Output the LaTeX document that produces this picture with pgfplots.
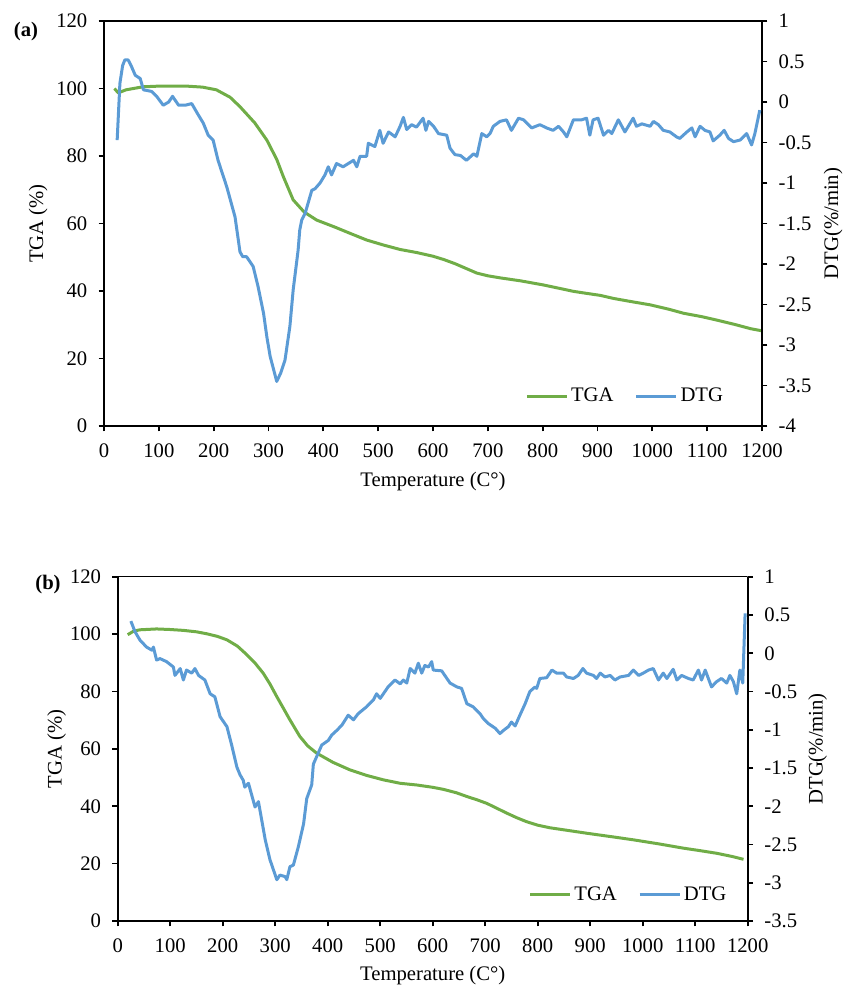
\documentclass[border=0pt]{standalone}
\usepackage{fontspec}
\setmainfont{Liberation Serif}
\usepackage{pgfplots}
\pgfplotsset{compat=1.18}
\definecolor{tgagreen}{RGB}{112,173,71}
\definecolor{dtgblue}{RGB}{91,155,213}
\newcommand{\fs}{\fontsize{15.5}{18}\selectfont}
\pgfplotsset{
  base/.style={scale only axis, anchor=south west, xmin=0, xmax=1200,
    enlargelimits=false, tick align=outside, major tick length=4pt,
    every tick/.style={black, line width=1.3pt},
    axis line style={black, line width=1.8pt, -},
    tick label style={font=\fs}, label style={font=\fs},
    /pgf/number format/assume math mode=true,
    /pgf/number format/1000 sep={}},
  leftax/.style={base, axis x line*=bottom, axis y line*=left,
    xtick distance=100, ymin=0, ymax=120, ytick distance=20,
    yticklabel style={xshift=-5pt}, xticklabel style={yshift=-6pt},
    xlabel={Temperature (C°)}, ylabel={TGA (\%)}},
  rightax/.style={base, hide x axis, axis y line*=right, ytick distance=0.5,
    yticklabel style={xshift=5pt},
    ylabel={DTG(\%/min)},
    legend style={draw=none, fill=none, font=\fs, legend columns=2, inner sep=0pt,
      /tikz/every even column/.append style={column sep=14pt}},
    legend image code/.code={\draw[#1] (0pt,0pt) -- (30pt,0pt);}},
  tga/.style={tgagreen, line width=2.25pt, line join=round, mark=none},
  dtg/.style={dtgblue, line width=2.25pt, line join=round, mark=none},
}
\begin{document}
\begin{tikzpicture}
\useasboundingbox (0,0) rectangle (632.25pt,741.75pt);
% ---------------- panel (a)
\begin{axis}[leftax, at={(78pt,422.25pt)}, width=493.5pt, height=303.75pt,
  xlabel style={at={(axis description cs:0.5,-0.136)}, anchor=center},
  ylabel style={at={(axis description cs:-0.100,0.5)}, anchor=center}]
\addplot[tga] coordinates {(19,100.0) (26,98.7) (40,99.6) (71,100.5) (100,100.7) (151,100.7) (180,100.4) (205,99.6) (230,97.4) (248,94.6) (275,89.8) (297,84.7) (315,79) (327,73.9) (345,67) (365,63.4) (388,61) (420,59) (450,57) (479,55.1) (510,53.6) (540,52.3) (570,51.4) (600,50.3) (620,49.3) (640,48.1) (660,46.7) (680,45.3) (700,44.5) (722,43.9) (760,43.0) (801,41.8) (830,40.8) (856,39.9) (880,39.3) (905,38.7) (929,37.8) (960,36.9) (996,35.9) (1030,34.6) (1057,33.4) (1090,32.4) (1117,31.4) (1150,30.1) (1180,28.8) (1200,28.2)};
\draw[black, line width=0.9pt] (rel axis cs:0,1) -- (rel axis cs:1,1);
\end{axis}
\begin{axis}[rightax, at={(78pt,422.25pt)}, width=493.5pt, height=303.75pt,
  ymin=-4, ymax=1,
  ylabel style={at={(axis description cs:1.108,0.5)}, anchor=center},
  legend style={at={(axis description cs:0.640,0.074)}, anchor=west}]
\addlegendimage{tga}\addlegendentry{TGA}
\addplot[dtg] coordinates {(24,-0.47) (29,0.23) (34,0.45) (38,0.52) (44,0.52) (50,0.44) (57,0.33) (66,0.29) (72,0.15) (80,0.14) (87,0.13) (96,0.07) (108,-0.04) (118,0.00) (125,0.07) (136,-0.04) (148,-0.04) (160,-0.02) (172,-0.16) (181,-0.26) (190,-0.41) (199,-0.47) (208,-0.72) (224,-1.05) (239,-1.42) (248,-1.85) (253,-1.91) (260,-1.91) (272,-2.03) (281,-2.28) (291,-2.61) (297,-2.90) (303,-3.14) (315,-3.45) (322,-3.35) (330,-3.19) (339,-2.77) (345,-2.32) (354,-1.83) (357,-1.58) (360.5,-1.46) (367,-1.37) (379,-1.09) (385,-1.07) (394,-1.00) (403,-0.90) (409,-0.80) (415,-0.90) (424,-0.76) (436,-0.80) (455,-0.72) (461,-0.80) (467,-0.67) (479,-0.67) (482,-0.51) (494,-0.55) (503,-0.35) (509,-0.51) (519,-0.37) (531,-0.43) (540,-0.30) (546,-0.19) (552,-0.34) (561,-0.28) (570,-0.31) (582,-0.20) (587,-0.35) (592,-0.24) (601,-0.30) (610,-0.39) (625,-0.41) (631,-0.57) (640,-0.65) (650,-0.66) (661,-0.72) (674,-0.64) (680,-0.67) (689,-0.39) (698,-0.43) (704,-0.39) (710,-0.30) (722,-0.24) (734,-0.22) (743,-0.35) (756,-0.20) (765,-0.22) (780,-0.32) (795,-0.28) (807,-0.32) (819,-0.35) (829,-0.30) (838,-0.37) (844,-0.43) (856,-0.22) (871,-0.22) (880,-0.20) (886,-0.41) (892,-0.22) (901,-0.20) (911,-0.41) (920,-0.35) (926,-0.39) (938,-0.22) (950,-0.37) (965,-0.20) (971,-0.30) (981,-0.27) (996,-0.30) (1002,-0.24) (1011,-0.28) (1020,-0.35) (1032,-0.37) (1044,-0.43) (1050,-0.45) (1063,-0.37) (1072,-0.32) (1078,-0.43) (1087,-0.30) (1096,-0.35) (1105,-0.37) (1111,-0.48) (1123,-0.41) (1131,-0.35) (1139,-0.45) (1148,-0.49) (1160,-0.47) (1172,-0.39) (1181,-0.53) (1187,-0.39) (1196,-0.10)};
\addlegendentry{DTG}
\end{axis}
% ---------------- panel (b)
\begin{axis}[leftax, at={(88.3pt,51pt)}, width=472.5pt, height=258.2pt,
  xlabel style={at={(axis description cs:0.5,-0.157)}, anchor=center},
  ylabel style={at={(axis description cs:-0.097,0.5)}, anchor=center}]
\addplot[tga] coordinates {(19,99.8) (30,101.0) (42,101.5) (74,101.8) (100,101.6) (125,101.3) (150,100.8) (170,100.1) (190,99.2) (208,98.0) (228,95.8) (246,92.8) (262,89.8) (277,86.4) (290,82.6) (303,78.2) (316,74) (328,70.1) (347,64.3) (362,61.0) (379,58.5) (410,55.3) (442,52.7) (475,50.7) (506,49.2) (538,48.0) (570,47.4) (600,46.6) (620,45.9) (645,44.7) (665,43.4) (685,42.2) (703,41.0) (722,39.3) (741,37.6) (760,36.0) (779,34.6) (800,33.4) (823,32.5) (860,31.5) (893,30.6) (940,29.4) (982,28.3) (1030,26.9) (1077,25.4) (1110,24.5) (1141,23.6) (1170,22.5) (1192,21.5)};
\draw[black, line width=0.9pt] (rel axis cs:0,1) -- (rel axis cs:1,1);
\end{axis}
\begin{axis}[rightax, at={(88.3pt,51pt)}, width=472.5pt, height=258.2pt,
  ymin=-3.5, ymax=1,
  ylabel style={at={(axis description cs:1.111,0.5)}, anchor=center},
  legend style={at={(axis description cs:0.652,0.076)}, anchor=west}]
\addlegendimage{tga}\addlegendentry{TGA}
\addplot[dtg] coordinates {(25,0.42) (33,0.28) (42.5,0.17) (55,0.08) (65,0.04) (68,0.08) (74,-0.09) (80.5,-0.07) (93,-0.11) (106,-0.18) (109,-0.29) (119,-0.20) (125,-0.35) (131,-0.22) (141,-0.26) (147,-0.20) (154,-0.29) (166,-0.35) (176,-0.53) (185,-0.57) (195,-0.83) (208,-0.96) (217,-1.20) (227,-1.49) (233,-1.59) (239,-1.66) (242,-1.75) (249,-1.70) (261.5,-2.01) (268,-1.94) (281,-2.44) (290,-2.70) (303,-2.96) (309,-2.90) (319,-2.92) (322,-2.96) (328,-2.79) (334.5,-2.77) (344,-2.53) (354,-2.23) (360,-1.90) (369.5,-1.72) (372.6,-1.45) (379,-1.35) (388.6,-1.20) (401,-1.14) (407.6,-1.07) (417,-1.01) (427,-0.94) (439,-0.81) (449,-0.87) (458,-0.79) (474,-0.70) (487,-0.61) (493,-0.53) (500,-0.59) (515,-0.44) (528,-0.35) (538,-0.40) (544,-0.35) (550.5,-0.39) (557,-0.20) (566,-0.26) (572.6,-0.13) (579,-0.26) (585,-0.16) (592,-0.18) (598,-0.11) (601,-0.22) (617,-0.23) (633,-0.39) (646,-0.44) (655,-0.46) (665,-0.66) (677,-0.70) (690,-0.79) (696,-0.85) (706,-0.92) (719,-0.98) (728,-1.05) (734.5,-1.01) (744,-0.96) (750,-0.90) (757,-0.95) (766,-0.81) (776,-0.66) (785,-0.50) (795,-0.44) (798,-0.46) (804,-0.33) (817,-0.32) (827,-0.22) (836,-0.26) (849,-0.26) (855,-0.31) (868,-0.33) (877,-0.29) (886,-0.20) (893,-0.26) (906,-0.29) (912,-0.33) (919,-0.26) (928,-0.31) (938,-0.29) (947,-0.35) (957,-0.31) (973,-0.29) (982,-0.22) (992,-0.29) (1001,-0.26) (1011,-0.22) (1020,-0.20) (1030,-0.35) (1039,-0.26) (1046,-0.33) (1058,-0.21) (1065,-0.35) (1074,-0.29) (1087,-0.33) (1096,-0.35) (1106,-0.22) (1112,-0.35) (1119,-0.22) (1131,-0.44) (1141,-0.37) (1150,-0.33) (1160,-0.39) (1166,-0.29) (1172.6,-0.37) (1179,-0.53) (1185,-0.22) (1190.5,-0.39) (1195,0.52)};
\addlegendentry{DTG}
\end{axis}
\node[font=\bfseries\fs] at (19.5pt,717.75pt) {(a)};
\node[font=\bfseries\fs] at (36pt,303pt) {(b)};
\end{tikzpicture}
\end{document}
